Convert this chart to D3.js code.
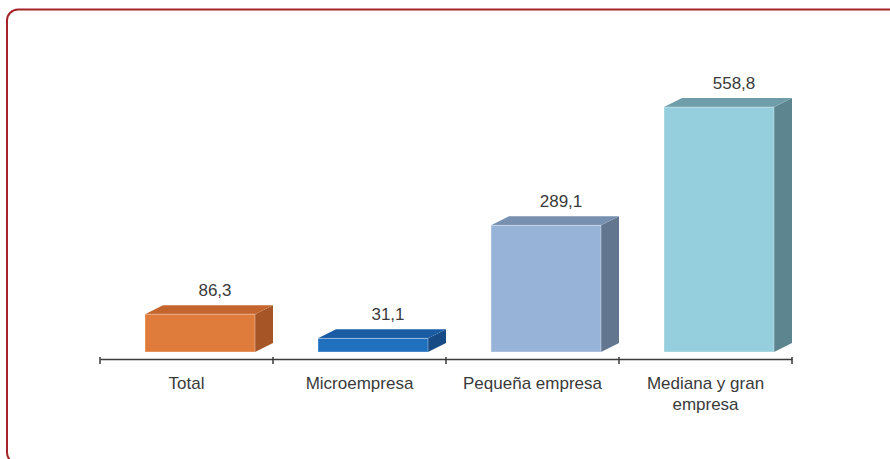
<!DOCTYPE html>
<html>
<head>
<meta charset="utf-8">
<script src="https://cdn.jsdelivr.net/npm/d3@7"></script>
<style>
  body { margin: 0; background: #fff; }
  svg { display: block; font-family: "Liberation Sans", Arial, sans-serif; }
</style>
</head>
<body>
<div id="chart"></div>
<script>
// values
var categories = ["Total", "Microempresa", "Pequeña empresa", "Mediana y gran empresa"];
var values = [86.3, 31.1, 289.1, 558.8];
var valueLabels = ["86,3", "31,1", "289,1", "558,8"];
var frontColors = ["#df7b3b", "#2070c0", "#97b4d8", "#95cfde"];
var topColors = ["#c4652d", "#1a5ca4", "#7890b0", "#6f9eaa"];
var sideColors = ["#a65626", "#164b85", "#62768f", "#5d8590"];

var width = 890;
var height = 459;

var svg = d3.select("#chart")
    .append("svg")
    .attr("width", width)
    .attr("height", height);

// frame, cut off at right and bottom
svg.append("rect")
    .attr("x", 7)
    .attr("y", 9.5)
    .attr("width", 920)
    .attr("height", 454)
    .attr("rx", 11)
    .attr("fill", "none")
    .attr("stroke", "#a52428")
    .attr("stroke-width", 2);

var x = d3.scaleBand()
    .domain(categories)
    .range([100, 792])
    .padding(0);

var floorY = 352;
var y = d3.scaleLinear()
    .domain([0, 600])
    .range([floorY, floorY - 263]);

var axisY = 359;
var barOffset = 45;
var barW = 110;
var dx = 18, dy = 9;

var data = categories.map(function(c, i) {
    return { cat: c, value: values[i], label: valueLabels[i], i: i };
});

var bars = svg.selectAll(".bar")
    .data(data)
    .enter()
    .append("g")
    .attr("class", "bar");

// side face
bars.append("path")
    .attr("fill", function(d) { return sideColors[d.i]; })
    .attr("d", function(d) {
        var x1 = x(d.cat) + barOffset + barW, yt = y(d.value);
        return "M" + x1 + "," + floorY +
            "L" + x1 + "," + yt +
            "L" + (x1 + dx) + "," + (yt - dy) +
            "L" + (x1 + dx) + "," + (floorY - dy) + "Z";
    });

// top face
bars.append("path")
    .attr("fill", function(d) { return topColors[d.i]; })
    .attr("d", function(d) {
        var x0 = x(d.cat) + barOffset, yt = y(d.value);
        return "M" + x0 + "," + yt +
            "L" + (x0 + dx) + "," + (yt - dy) +
            "L" + (x0 + barW + dx) + "," + (yt - dy) +
            "L" + (x0 + barW) + "," + yt + "Z";
    });

// front face
bars.append("rect")
    .attr("x", function(d) { return x(d.cat) + barOffset; })
    .attr("y", function(d) { return y(d.value); })
    .attr("width", barW)
    .attr("height", function(d) { return floorY - y(d.value); })
    .attr("fill", function(d) { return frontColors[d.i]; })
    .attr("stroke", "rgba(255,255,255,0.35)")
    .attr("stroke-width", 1);

bars.append("text")
    .attr("x", function(d) { return x(d.cat) + barOffset + barW / 2 + 15; })
    .attr("y", function(d) { return y(d.value) - dy - 9; })
    .attr("text-anchor", "middle")
    .attr("font-size", 17)
    .attr("fill", "#3a3a3a")
    .text(function(d) { return d.label; });

// category axis
var axis = svg.append("g")
    .attr("transform", "translate(0," + axisY + ")")
    .call(d3.axisBottom(x).tickSize(0).tickFormat(""));

axis.select(".domain")
    .attr("stroke", "#3a3a3a")
    .attr("stroke-width", 1.5);

// ticks at band edges
var edges = categories.map(function(c) { return x(c); }).concat([x.range()[1]]);
axis.selectAll(".edge")
    .data(edges)
    .enter()
    .append("line")
    .attr("x1", function(d) { return d; })
    .attr("x2", function(d) { return d; })
    .attr("y1", -2)
    .attr("y2", 5)
    .attr("stroke", "#3a3a3a")
    .attr("stroke-width", 1.5);

// wrapped category labels
var lines = {
    "Mediana y gran empresa": ["Mediana y gran", "empresa"]
};
var labels = svg.selectAll(".cat")
    .data(categories)
    .enter()
    .append("text")
    .attr("class", "cat")
    .attr("text-anchor", "middle")
    .attr("font-size", 17)
    .attr("fill", "#3a3a3a")
    .attr("x", function(d) { return x(d) + x.bandwidth() / 2; })
    .attr("y", 389);

labels.each(function(d) {
    var parts = lines[d] || [d];
    var t = d3.select(this);
    parts.forEach(function(p, k) {
        t.append("tspan")
            .attr("x", x(d) + x.bandwidth() / 2)
            .attr("dy", k === 0 ? 0 : 21)
            .text(p);
    });
});
</script>
</body>
</html>
